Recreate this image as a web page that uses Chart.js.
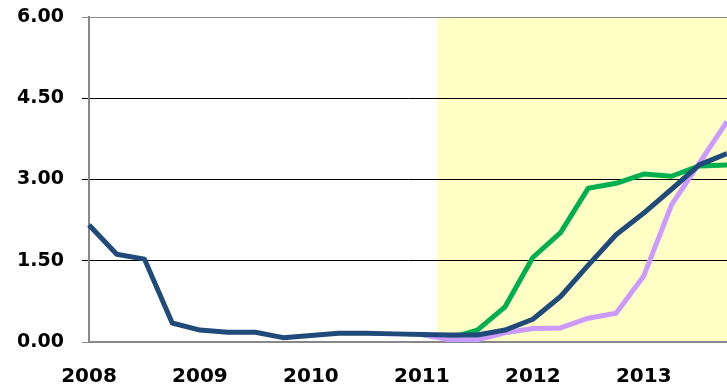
<!DOCTYPE html>
<html>
<head>
<meta charset="utf-8">
<script src="https://cdn.jsdelivr.net/npm/chart.js@4/dist/chart.umd.min.js"></script>
<style>
  html, body { margin: 0; padding: 0; background: #ffffff; }
  #wrap { width: 727px; height: 391px; }
</style>
</head>
<body>
<div id="wrap"><canvas id="c" width="727" height="391"></canvas></div>
<script>
// Quarterly observations, 2008 Q1 – 2013 Q4
const quarters = [
  '2008 Q1','2008 Q2','2008 Q3','2008 Q4',
  '2009 Q1','2009 Q2','2009 Q3','2009 Q4',
  '2010 Q1','2010 Q2','2010 Q3','2010 Q4',
  '2011 Q1','2011 Q2','2011 Q3','2011 Q4',
  '2012 Q1','2012 Q2','2012 Q3','2012 Q4',
  '2013 Q1','2013 Q2','2013 Q3','2013 Q4'
];

// Rate path (history then projection)
const baseline = [2.16, 1.62, 1.53, 0.35, 0.22, 0.18, 0.18, 0.08,
                  0.12, 0.16, 0.16, 0.15, 0.14, 0.13, 0.13, 0.22,
                  0.42, 0.84, 1.42, 1.98, 2.38, 2.82, 3.27, 3.48];

// Alternative paths over the projection period
const fastPath = [null, null, null, null, null, null, null, null,
                  null, null, null, null, 0.14, 0.07, 0.22, 0.65,
                  1.56, 2.02, 2.84, 2.93, 3.10, 3.06, 3.25, 3.27];

const slowPath = [null, null, null, null, null, null, null, null,
                  null, null, null, null, 0.14, 0.04, 0.04, 0.17,
                  0.25, 0.26, 0.44, 0.53, 1.22, 2.53, 3.30, 4.07];

// Value axis ticks
const yTicks = [0, 1.5, 3, 4.5, 6];

// Projection period begins between 2011 Q1 and 2011 Q2
const projectionStart = 12.55;

const shadePlugin = {
  id: 'projectionShade',
  beforeDraw(chart) {
    const { ctx, chartArea, scales } = chart;
    const x0 = scales.x.getPixelForValue(projectionStart);
    ctx.save();
    ctx.fillStyle = '#FFFFC5';
    ctx.fillRect(x0, chartArea.top, chartArea.right - x0, chartArea.bottom - chartArea.top);
    ctx.restore();
  }
};

const font = { family: '"DejaVu Sans", Verdana, sans-serif', weight: 'bold' };

new Chart(document.getElementById('c'), {
  type: 'line',
  data: {
    labels: quarters,
    datasets: [
      { data: baseline, borderColor: '#1F4A7A', borderWidth: 5, order: 0 },
      { data: slowPath, borderColor: '#CC99FF', borderWidth: 5, order: 1 },
      { data: fastPath, borderColor: '#00B050', borderWidth: 5, order: 2 }
    ]
  },
  options: {
    responsive: false,
    animation: false,
    events: [],
    layout: { padding: { top: 17, right: 0, bottom: 0, left: 0 } },
    elements: {
      point: { radius: 0 },
      line: { tension: 0, borderJoinStyle: 'round', borderCapStyle: 'butt', fill: false }
    },
    plugins: { legend: { display: false }, tooltip: { enabled: false } },
    scales: {
      x: {
        type: 'category',
        offset: false,
        grid: { display: false, drawTicks: false, tickLength: 0 },
        border: { display: true, color: '#888888', width: 2 },
        ticks: {
          autoSkip: false,
          maxRotation: 0,
          padding: 23,
          color: '#000000',
          font: { ...font, size: 20 },
          callback: (v, i) => (i % 4 === 0 ? quarters[i].slice(0, 4) : '')
        },
        afterFit: (s) => { s.height = 49; s.paddingLeft = 0; s.paddingRight = 0; }
      },
      y: {
        min: 0,
        max: 6,
        afterBuildTicks: (s) => { s.ticks = yTicks.map(v => ({ value: v })); },
        grid: {
          color: (c) => (c.tick && (c.tick.value === 0 || c.tick.value === 6) ? '#888888' : '#000000'),
          lineWidth: 1,
          tickLength: 7,
          drawTicks: true
        },
        border: { display: true, color: '#888888', width: 2 },
        ticks: {
          padding: 18,
          color: '#000000',
          font: { ...font, size: 19 },
          callback: (v) => Number(v).toFixed(2)
        },
        afterFit: (s) => { s.width = 89; s.paddingTop = 0; s.paddingBottom = 0; }
      }
    }
  },
  plugins: [shadePlugin]
});
</script>
</body>
</html>
